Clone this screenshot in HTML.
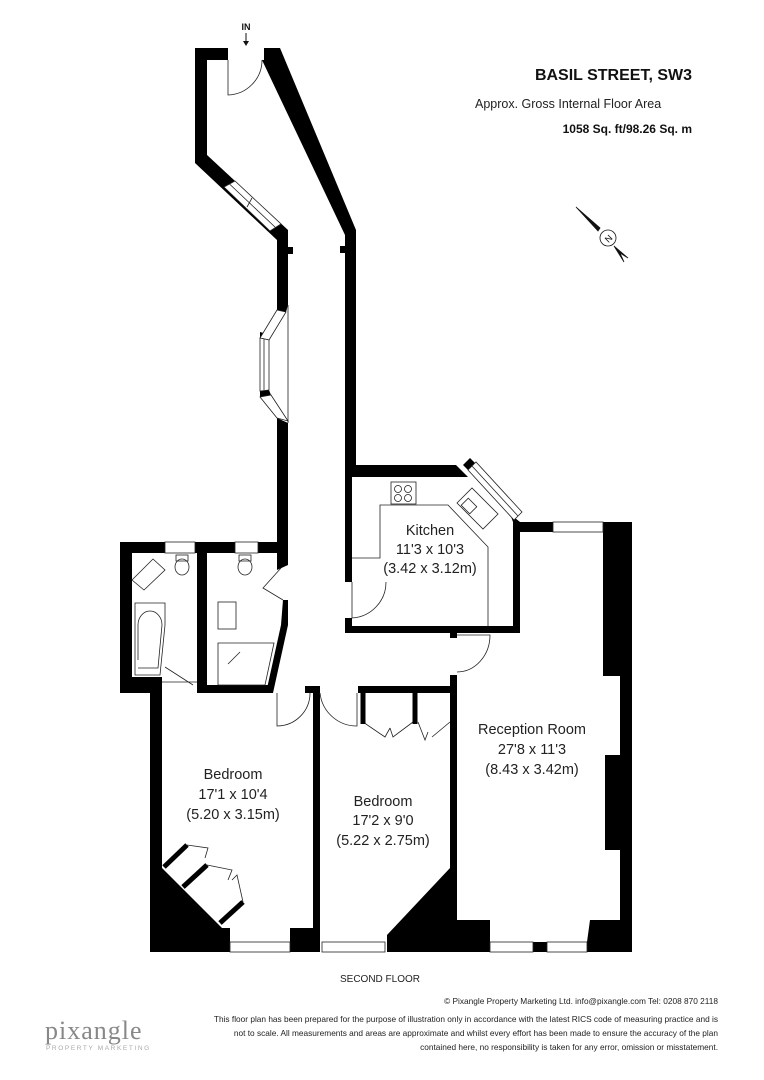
<!DOCTYPE html>
<html><head><meta charset="utf-8"><style>
html,body{margin:0;padding:0;background:#fff;}
svg{display:block;font-family:"Liberation Sans",sans-serif;}
</style></head><body>
<svg width="764" height="1080" viewBox="0 0 764 1080" xmlns="http://www.w3.org/2000/svg">
<rect width="764" height="1080" fill="#fff"/>
<text x="246" y="30" font-size="9" font-weight="bold" text-anchor="middle" fill="#111">IN</text>
<line x1="246" y1="33" x2="246" y2="43" stroke="#111" stroke-width="1"/>
<path d="M243,41 L246,46 L249,41Z" fill="#111"/>
<g fill="#000">
<polygon points="195,48 228,48 228,60 207,60 207,155 288,230 288,305 277,305 277,240 195,163"/>
<rect x="288" y="247" width="5" height="7"/>
<polygon points="277,305 288,305 286,312 277,310"/>
<polygon points="260,332 271,335 269,340 260,338"/>
<polygon points="260,391 269,390 271,395 260,397"/>
<polygon points="277,418 288,423 288,565 277,565"/>
<polygon points="264,48 280,48 356,230 356,468 345,468 345,235 262,60 264,60"/>
<rect x="340" y="246" width="5" height="7"/>
<polygon points="345,465 456,465 468,477 352,477 352,582 345,582"/>
<polygon points="463,465 470,458 478,466 471,473"/>
<polygon points="510,514 520,522 520,633 513,633 513,522"/>
<rect x="345" y="618" width="7" height="15"/>
<rect x="345" y="626" width="175" height="7"/>
<rect x="450" y="633" width="7" height="5"/>
<rect x="515" y="522" width="38" height="10"/>
<rect x="603" y="522" width="29" height="154"/>
<rect x="620" y="676" width="12" height="80"/>
<rect x="605" y="755" width="27" height="95"/>
<rect x="620" y="850" width="12" height="100"/>
<rect x="450" y="675" width="7" height="277"/>
<polygon points="457,920 490,920 490,952 457,952"/>
<rect x="533" y="942" width="14" height="10"/>
<polygon points="587,942 590,920 632,920 632,952 587,952"/>
<rect x="313" y="686" width="7" height="266"/>
<rect x="358" y="686" width="92" height="7"/>
<polygon points="450,868 450,952 387,952 387,935"/>
<rect x="150" y="693" width="12" height="259"/>
<polygon points="160,866 222,928 230,928 230,952 160,952"/>
<rect x="290" y="928" width="23" height="24"/>
<rect x="150" y="942" width="170" height="10"/>
<rect x="305" y="686" width="15" height="7"/>
<rect x="120" y="542" width="12" height="151"/>
<rect x="120" y="542" width="45" height="11"/>
<rect x="195" y="542" width="40" height="11"/>
<rect x="258" y="542" width="30" height="11"/>
<rect x="197" y="542" width="10" height="151"/>
<rect x="120" y="677" width="42" height="16"/>
<rect x="197" y="685" width="76" height="8"/>
<polygon points="277,560 288,560 288,565 277,570"/>
<polygon points="283,600 288,600 288,625 273,693 266,693 281,625"/>
</g>
<g fill="#fff" stroke="#222" stroke-width="0.8">
<polygon points="224,187 235,181 281,224 270,231"/>
<polygon points="277,310 286,312 269,340 260,338"/>
<polygon points="260,338 269,340 269,390 260,391"/>
<polygon points="260,397 271,395 288,421 277,418"/>
<rect x="165" y="542" width="30" height="11"/>
<rect x="235" y="542" width="23" height="11"/>
<rect x="553" y="522" width="50" height="10"/>
<rect x="230" y="942" width="60" height="10"/>
<rect x="322" y="942" width="63" height="10"/>
<rect x="490" y="942" width="43" height="10"/>
<rect x="547" y="942" width="40" height="10"/>
</g>
<g stroke="#222" stroke-width="0.8" fill="none">
<line x1="229.5" y1="184" x2="275.5" y2="227.5"/>
<line x1="252" y1="198" x2="247" y2="207"/>
<line x1="264" y1="339" x2="264" y2="390"/>
<line x1="288" y1="305" x2="288" y2="423"/>
<polygon points="468,470 476,462 522,512 514,520" fill="#fff"/>
<line x1="472" y1="466" x2="518" y2="516"/>
<path d="M228,60 L228,95 A35,35 0 0 0 262,60"/>
<path d="M352,582 L352,618 A36,36 0 0 0 386,582" />
<path d="M457,635 L490,635 A33,37 0 0 1 457,672"/>
<path d="M277,693 L277,726 A33,33 0 0 0 310,693"/>
<path d="M320,693 A37,37 0 0 0 357,726 L357,693"/>
<path d="M281,568 L263,588 L283,600"/>
<path d="M162,682 L197,682 M165,667 L193,685"/>
<polyline points="352,558 380,558 380,505 448,505 488,547 488,626"/>
<rect x="391" y="482" width="25" height="22" fill="#fff"/>
<circle cx="398" cy="489" r="3.5"/><circle cx="408" cy="489" r="3.5"/><circle cx="398" cy="498" r="3.5"/><circle cx="408" cy="498" r="3.5"/>
<polygon points="457,503 472,488 498,514 483,529"/>
<rect x="464" y="500" width="10" height="12" transform="rotate(-45 469 506)"/>
<polygon points="132,580 153,559 165,570 144,590"/>
<ellipse cx="182" cy="567" rx="7" ry="8"/><rect x="176" y="555" width="12" height="6"/>
<ellipse cx="245" cy="567" rx="7" ry="8"/><rect x="239" y="555" width="12" height="6"/>
<rect x="218" y="602" width="18" height="27"/>
<path d="M135,603 L165,603 L165,625 L160,675 L135,675 Z"/>
<path d="M138,660 L138,625 A12,14 0 0 1 162,625 L158,668 L138,668"/>
<polygon points="218,643 274,643 265,685 218,685"/>
<polyline points="228,664 240,652 M228,664 244,664 M228,664 240,676"/>
<path d="M363,722 L385,737 L390,728 M413,722 L393,737 L390,728"/>
<path d="M418,722 L425,740 L428,732 M450,722 L432,737"/>
<path d="M187,845 L208,848 L205,858 M207,865 L232,870 L228,880 M243,902 L237,875 L232,880"/>
</g>
<g stroke="#000" stroke-width="5" fill="none">
<line x1="164" y1="867" x2="187" y2="845"/>
<line x1="183" y1="887" x2="207" y2="865"/>
<line x1="220" y1="923" x2="243" y2="902"/>
<line x1="363" y1="693" x2="363" y2="724"/>
<line x1="415" y1="693" x2="415" y2="724"/>
</g>
<g stroke="#111" stroke-width="0.8" fill="#fff">
<polygon points="576,207 600,228 598,231" fill="#111"/>
<circle cx="608" cy="238" r="8"/>
<polygon points="614,246 628,258 620,253 624,262" fill="#111"/>
</g>
<text x="608" y="242" font-size="9" text-anchor="middle" transform="rotate(-45 608 238)" fill="#111">N</text>
<g fill="#222" font-size="14.5" text-anchor="middle">
<text x="430" y="535">Kitchen</text><text x="430" y="554">11'3 x 10'3</text><text x="430" y="573">(3.42 x 3.12m)</text>
<text x="532" y="734">Reception Room</text><text x="532" y="754">27'8 x 11'3</text><text x="532" y="774">(8.43 x 3.42m)</text>
<text x="233" y="779">Bedroom</text><text x="233" y="799">17'1 x 10'4</text><text x="233" y="819">(5.20 x 3.15m)</text>
<text x="383" y="806">Bedroom</text><text x="383" y="825">17'2 x 9'0</text><text x="383" y="845">(5.22 x 2.75m)</text>
</g>
<text x="692" y="80" font-size="16" font-weight="bold" text-anchor="end" fill="#111">BASIL STREET, SW3</text>
<text x="475" y="108" font-size="12.5" fill="#222">Approx. Gross Internal Floor Area</text>
<text x="692" y="133" font-size="12" font-weight="bold" text-anchor="end" fill="#111">1058 Sq. ft/98.26 Sq. m</text>
<text x="380" y="982" font-size="10" text-anchor="middle" fill="#222">SECOND FLOOR</text>
<g font-size="8.3" fill="#222" text-anchor="end">
<text x="718" y="1004">© Pixangle Property Marketing Ltd. info@pixangle.com Tel: 0208 870 2118</text>
<text x="718" y="1022">This floor plan has been prepared for the purpose of illustration only in accordance with the latest RICS code of measuring practice and is</text>
<text x="718" y="1036">not to scale. All measurements and areas are approximate and whilst every effort has been made to ensure the accuracy of the plan</text>
<text x="718" y="1050">contained here, no responsibility is taken for any error, omission or misstatement.</text>
</g>
<text x="45" y="1039" font-size="26" font-family="Liberation Serif, serif" fill="#888" letter-spacing="1">pixangle</text>
<text x="46" y="1050" font-size="6.5" fill="#aaa" letter-spacing="1.6">PROPERTY MARKETING</text>
</svg>
</body></html>
